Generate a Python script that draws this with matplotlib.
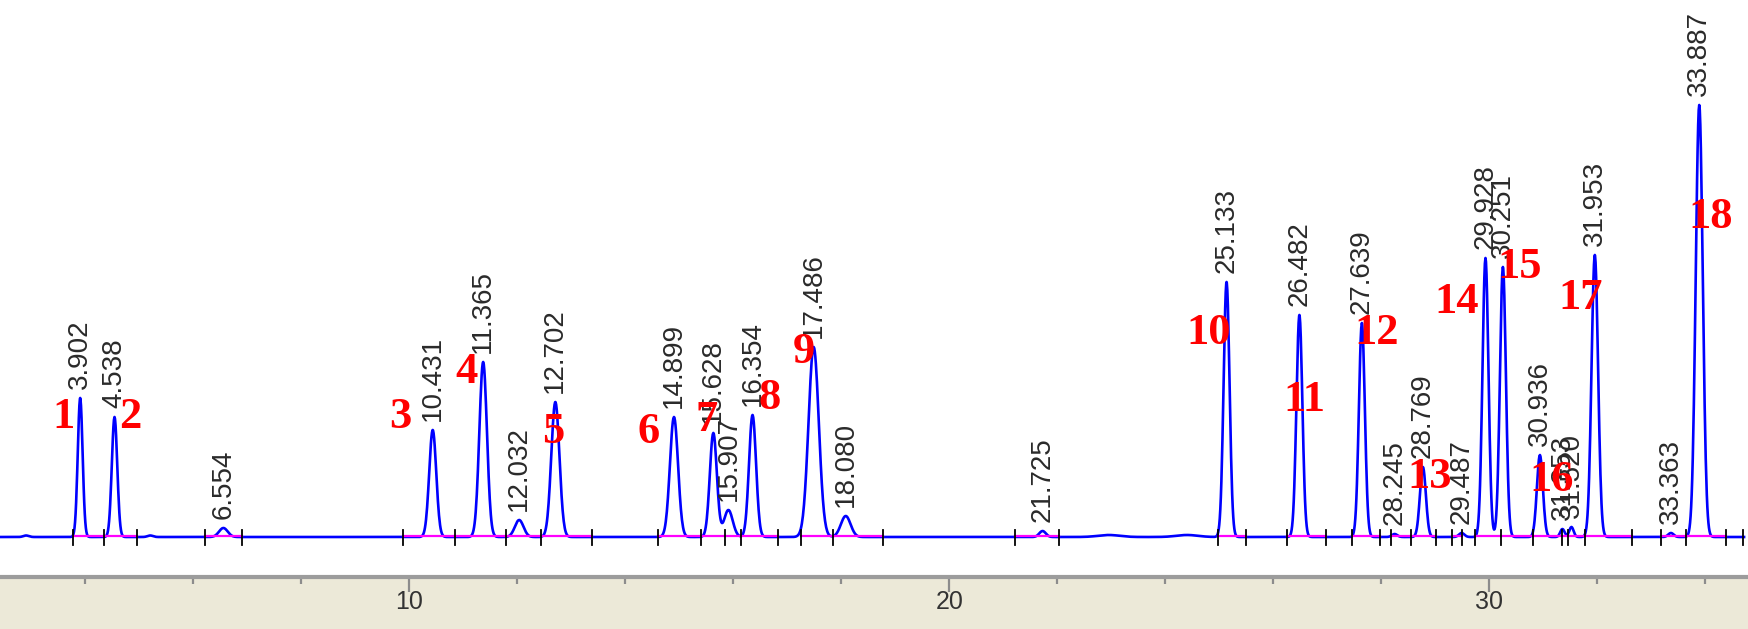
import numpy as np
import matplotlib
matplotlib.use("Agg")
import matplotlib.pyplot as plt

# ---------------- data ----------------
retention_times = [3.902, 4.538, 6.554, 10.431, 11.365, 12.032, 12.702, 14.899,
                   15.628, 15.907, 16.354, 17.486, 18.080, 21.725, 25.133, 26.482,
                   27.639, 28.245, 28.769, 29.487, 29.928, 30.251, 30.936, 31.353,
                   31.520, 31.953, 33.363, 33.887]
peak_heights = [139, 120, 9, 107, 175, 17, 135, 120,
                104, 27, 122, 190, 21, 6, 255, 222,
                214, 3, 70, 4, 279, 270, 82, 8,
                10, 282, 4, 432]
peak_sigmas = [0.045, 0.05, 0.08, 0.065, 0.07, 0.08, 0.075, 0.075,
               0.065, 0.08, 0.065, 0.095, 0.09, 0.06, 0.055, 0.055,
               0.055, 0.05, 0.055, 0.05, 0.055, 0.055, 0.055, 0.04,
               0.04, 0.06, 0.05, 0.065]
peak_starts = [3.76, 4.35, 6.21, 9.88, 10.84, 11.78, 12.44, 14.60,
               15.40, 15.84, 16.14, 17.25, 17.84, 21.21, 24.98, 26.26,
               27.45, 28.17, 28.54, 29.30, 29.73, 30.21, 30.80, 31.34,
               31.45, 31.77, 33.18, 33.64]
peak_ends = [4.35, 4.95, 6.89, 10.84, 11.78, 12.44, 13.38, 15.40,
             15.84, 16.14, 16.82, 17.84, 18.77, 22.03, 25.50, 26.97,
             27.98, 28.54, 29.01, 29.49, 30.21, 30.80, 31.34, 31.45,
             31.77, 32.64, 33.64, 34.38]
extra_events = [34.70]

baseline_bump_times = [2.9, 5.2, 22.95, 24.4]
baseline_bump_heights = [1.5, 1.5, 2, 2]
baseline_bump_sigmas = [0.05, 0.05, 0.2, 0.2]

compound_numbers = [str(i) for i in range(1, 19)]
compound_label_t = [3.585, 4.824, 9.824, 11.065, 12.657, 14.435, 15.509, 16.676, 17.306,
                    24.806, 26.565, 27.917, 28.898, 29.398, 30.565, 31.157, 31.694, 34.102]
compound_label_y = [120, 120, 120, 165, 105, 105, 117, 139, 185,
                    204, 137, 204, 60, 235, 270, 57, 239, 320]

major_ticks = [10, 20, 30]
major_tick_labels = ["10", "20", "30"]
minor_ticks = [4, 6, 8, 12, 14, 16, 18, 22, 24, 26, 28, 32, 34]

# ---------------- figure ----------------
W, H = 1748, 629
fig = plt.figure(figsize=(W / 100, H / 100), dpi=100)
band_h = 52
ax = fig.add_axes([0, band_h / H, 1, 1 - band_h / H])
ax2 = fig.add_axes([0, 0, 1, band_h / H], sharex=ax)

t_min, t_max = 2.417, 34.79
t = np.arange(t_min, 34.72, 0.01)
t = np.union1d(t, np.array(retention_times))
signal = np.zeros_like(t)
for rt, h, s in zip(retention_times, peak_heights, peak_sigmas):
    signal += h * np.exp(-0.5 * ((t - rt) / s) ** 2)
for bt, bh, bs in zip(baseline_bump_times, baseline_bump_heights, baseline_bump_sigmas):
    signal += bh * np.exp(-0.5 * ((t - bt) / bs) ** 2)

ax.plot(t, signal, color="#0000FF", lw=1.9, zorder=2)

# integration baselines (magenta) and event marks
for s0, s1 in zip(peak_starts, peak_ends):
    ax.plot([s0, s1], [1.2, 1.2], color="#FF00FF", lw=1.6, zorder=3)
events = sorted(set(peak_starts + peak_ends + extra_events))
for ev in events:
    ax.plot([ev, ev], [-8, 7], color="black", lw=1.3, zorder=4)

# retention time labels
for rt, h in zip(retention_times, peak_heights):
    ax.text(rt, h + 9, f"{rt:.3f}", rotation=90, ha="center", va="bottom",
            fontsize=20, family="Liberation Sans", color="#2a2a2a", zorder=5)

# compound numbers
for lab, lt, ly in zip(compound_numbers, compound_label_t, compound_label_y):
    ax.text(lt, ly, lab, ha="center", va="center", fontsize=32,
            family="Liberation Serif", fontweight="bold", color="#FF0000", zorder=6)

ax.set_xlim(t_min, t_max)
ax.set_ylim(-40, 537)
ax.axis("off")

# time axis band
ax2.set_facecolor("#ECE9D8")
for side in ["left", "right", "bottom"]:
    ax2.spines[side].set_visible(False)
ax2.spines["top"].set_color("#9C9C9C")
ax2.spines["top"].set_linewidth(3)
ax2.set_yticks([])
ax2.set_xticks(major_ticks)
ax2.set_xticklabels(major_tick_labels)
ax2.set_xticks(minor_ticks, minor=True)
ax2.tick_params(axis="x", which="both", top=True, bottom=False, labeltop=False,
                labelbottom=True, direction="in", color="#8C8C8C", width=1.6)
ax2.tick_params(axis="x", which="major", length=11, pad=-28, labelsize=18,
                labelcolor="#333333")
ax2.tick_params(axis="x", which="minor", length=5)
for lbl in ax2.get_xticklabels():
    lbl.set_family("Liberation Sans")
ax2.set_ylim(0, 1)

fig.savefig("out.png", dpi=100)
